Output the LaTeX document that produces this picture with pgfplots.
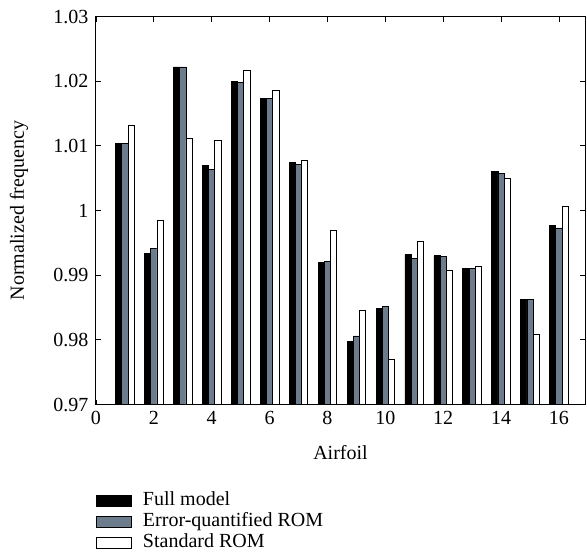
\documentclass[border=0pt]{standalone}
\usepackage{fontspec}
\setmainfont{Liberation Serif}
\usepackage{pgfplots}
\pgfplotsset{compat=1.18}
\definecolor{eqgray}{RGB}{108,124,140}
\newcommand{\bigfont}{\fontsize{20}{23}\selectfont}

\begin{document}
\begin{tikzpicture}
\useasboundingbox (-96pt,-147.5pt) rectangle (491pt,404.5pt);
\begin{axis}[
  scale only axis,
  width=489pt, height=388pt,
  ybar=0pt,
  bar width=6.2pt,
  xmin=0, xmax=16.9,
  ymin=0.97, ymax=1.03,
  xtick={0,2,...,16},
  ytick={0.97,0.98,0.99,1,1.01,1.02,1.03},
  yticklabels={0.97,0.98,0.99,1,1.01,1.02,1.03},
  tick align=inside,
  major tick length=5pt,
  axis line style={line width=1pt},
  every tick/.style={black, line width=0.9pt},
  /pgf/number format/assume math mode=true,
  tick label style={font=\bigfont},
  xticklabel style={yshift=-3pt},
  yticklabel style={xshift=-4pt},
  xlabel={Airfoil},
  ylabel={Normalized frequency},
  every axis x label/.style={at={(axis description cs:0.5,0)}, anchor=center, yshift=-48.5pt, font=\bigfont},
  every axis y label/.style={at={(axis description cs:-0.1575,0.5)}, anchor=center, rotate=90, font=\bigfont},
  legend image code/.code={\draw[#1] (0pt,-5.5pt) rectangle (35pt,5.5pt);},
  legend style={at={(0,0)}, anchor=north west, yshift=-86pt, draw=none, fill=none,
    font=\bigfont, inner sep=0pt, row sep=0pt,
    nodes={inner sep=1pt, text height=14pt, text depth=5pt},
    /tikz/every odd column/.append style={column sep=10pt}},
  legend cell align=left,
]
% Full model
\addplot[fill=black, draw=black, line width=0.8pt] coordinates {
  (1,1.0104) (2,0.9933) (3,1.0222) (4,1.0069) (5,1.0200) (6,1.0173)
  (7,1.0075) (8,0.9920) (9,0.9798) (10,0.9848) (11,0.9932) (12,0.9930)
  (13,0.9911) (14,1.0061) (15,0.9862) (16,0.9977)
};
% Error-quantified ROM
\addplot[fill=eqgray, draw=black, line width=0.8pt] coordinates {
  (1,1.0103) (2,0.9942) (3,1.0222) (4,1.0063) (5,1.0198) (6,1.0173)
  (7,1.0071) (8,0.9921) (9,0.9806) (10,0.9851) (11,0.9926) (12,0.9929)
  (13,0.9911) (14,1.0057) (15,0.9862) (16,0.9973)
};
% Standard ROM
\addplot[fill=white, draw=black, line width=0.8pt] coordinates {
  (1,1.0131) (2,0.9985) (3,1.0111) (4,1.0109) (5,1.0216) (6,1.0185)
  (7,1.0078) (8,0.9969) (9,0.9845) (10,0.9770) (11,0.9952) (12,0.9907)
  (13,0.9913) (14,1.0049) (15,0.9808) (16,1.0007)
};
\legend{Full model, Error-quantified ROM, Standard ROM}
\end{axis}
\end{tikzpicture}
\end{document}
